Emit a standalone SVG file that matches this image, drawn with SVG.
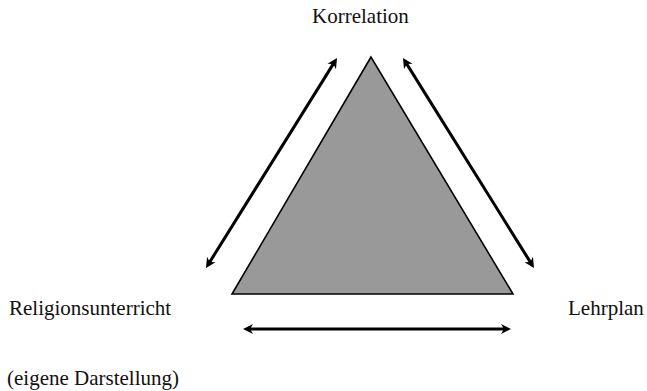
<svg xmlns="http://www.w3.org/2000/svg" width="647" height="391" viewBox="0 0 647 391">
<style>
.arr{stroke:#000;stroke-width:3;fill:none;marker-start:url(#ah);marker-end:url(#ah)}
</style>
<defs>
<marker id="ah" markerUnits="userSpaceOnUse" markerWidth="12" markerHeight="12" viewBox="0 -6 11 12" refX="6" refY="0" orient="auto-start-reverse">
<path d="M10,0 L0,-5 L3,0 L0,5 Z" fill="#000"/>
</marker>
</defs>
<rect width="647" height="391" fill="#fff"/>
<g id="triangle">
<polygon points="371,57 232,294 513,294" fill="#999" stroke="#000" stroke-width="1.6" stroke-linejoin="miter"/>
</g>
<g id="connectors">
<line class="arr" x1="208.1" y1="264.6" x2="334.9" y2="61.4"/>
<line class="arr" x1="405.1" y1="61.4" x2="531.9" y2="264.6"/>
<line class="arr" x1="247" y1="329" x2="507" y2="329"/>
</g>
<g id="korrelation"><text x="312" y="23" font-size="21" fill="#111" font-family="Liberation Serif">Korrelation</text></g>
<g id="religionsunterricht"><text x="9" y="315" font-size="21" fill="#111" font-family="Liberation Serif">Religionsunterricht</text></g>
<g id="lehrplan"><text x="568" y="315" font-size="21" fill="#111" font-family="Liberation Serif">Lehrplan</text></g>
<g id="caption"><text x="7" y="385" font-size="21" fill="#111" font-family="Liberation Serif">(eigene Darstellung)</text></g>
</svg>
